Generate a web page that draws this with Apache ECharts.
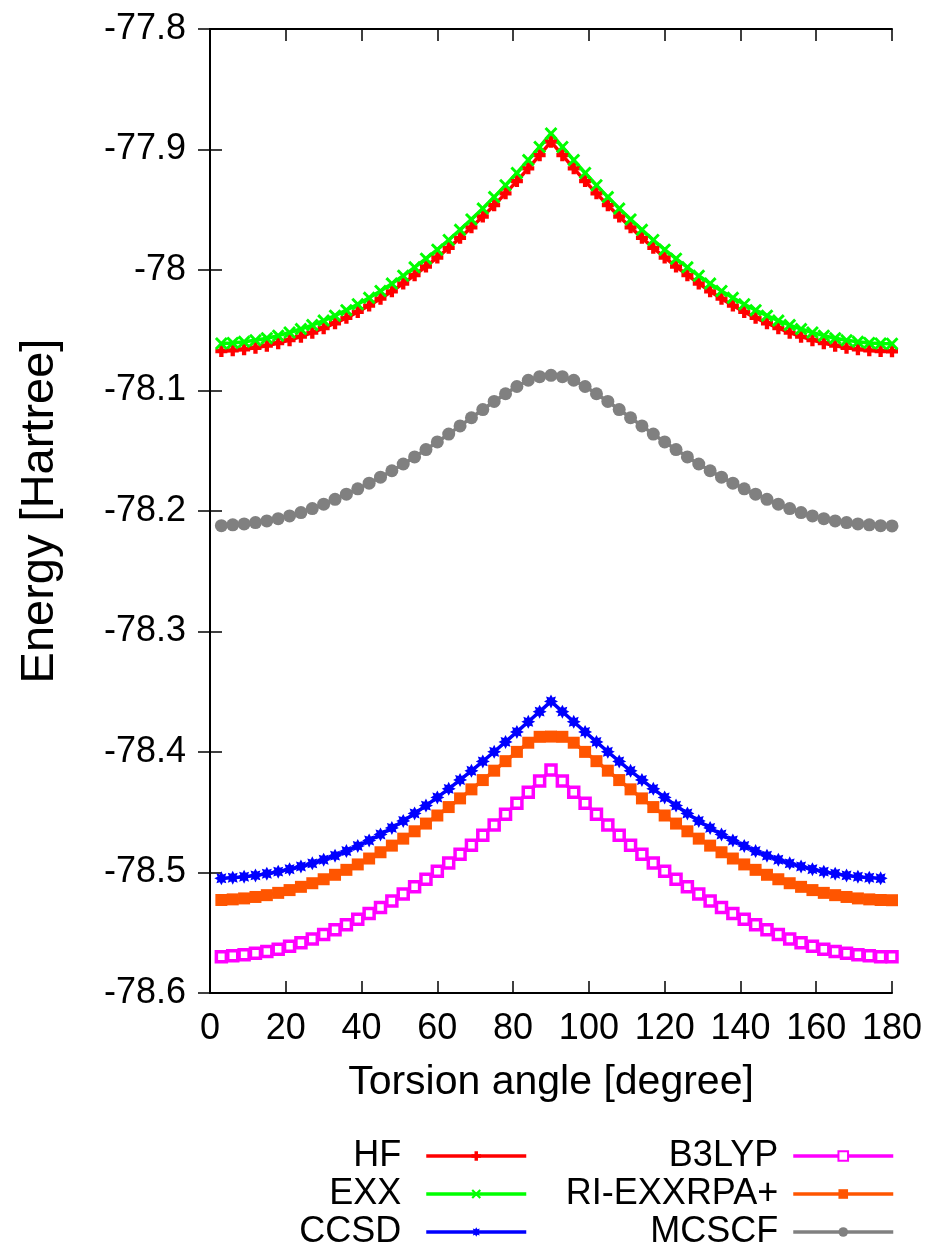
<!DOCTYPE html>
<html><head><meta charset="utf-8">
<script src="https://cdn.jsdelivr.net/npm/echarts@6/dist/echarts.min.js"></script>
<style>html,body{margin:0;padding:0;background:#fff}#c{width:933px;height:1244px}</style>
</head><body><div id="c"></div>
<script>
// ---- data ----
const angles = [3,6,9,12,15,18,21,24,27,30,33,36,39,42,45,48,51,54,57,60,63,66,69,72,75,78,81,84,87,90,
  93,96,99,102,105,108,111,114,117,120,123,126,129,132,135,138,141,144,147,150,153,156,159,162,165,168,171,174,177,180];

const hf = [-78.0672,-78.0667,-78.0658,-78.0645,-78.0628,-78.0607,-78.0582,-78.0553,-78.0520,-78.0483,-78.0442,-78.0397,-78.0348,-78.0295,-78.0238,-78.0177,-78.0112,-78.0043,-77.9971,-77.9896,-77.9816,-77.9733,-77.9646,-77.9556,-77.9462,-77.9364,-77.9262,-77.9156,-77.9047,-77.8935,
  -77.9047,-77.9156,-77.9262,-77.9364,-77.9462,-77.9556,-77.9646,-77.9733,-77.9816,-77.9896,-77.9971,-78.0043,-78.0112,-78.0177,-78.0238,-78.0295,-78.0348,-78.0397,-78.0442,-78.0483,-78.0520,-78.0553,-78.0582,-78.0607,-78.0628,-78.0645,-78.0658,-78.0667,-78.0672,-78.0674];

const exx = [-78.0610,-78.0605,-78.0596,-78.0583,-78.0566,-78.0545,-78.0519,-78.0490,-78.0457,-78.0420,-78.0379,-78.0333,-78.0284,-78.0231,-78.0174,-78.0113,-78.0048,-77.9978,-77.9906,-77.9831,-77.9751,-77.9667,-77.9580,-77.9490,-77.9395,-77.9297,-77.9195,-77.9088,-77.8979,-77.8867,
  -77.8979,-77.9088,-77.9195,-77.9297,-77.9395,-77.9490,-77.9580,-77.9667,-77.9751,-77.9831,-77.9906,-77.9978,-78.0048,-78.0113,-78.0174,-78.0231,-78.0284,-78.0333,-78.0379,-78.0420,-78.0457,-78.0490,-78.0519,-78.0545,-78.0566,-78.0583,-78.0596,-78.0605,-78.0610,-78.0612];

const ccsd = [-78.5048,-78.5043,-78.5035,-78.5024,-78.5010,-78.4993,-78.4973,-78.4950,-78.4924,-78.4894,-78.4860,-78.4822,-78.4780,-78.4734,-78.4684,-78.4630,-78.4572,-78.4510,-78.4445,-78.4377,-78.4306,-78.4232,-78.4156,-78.4078,-78.3998,-78.3916,-78.3833,-78.3749,-78.3665,-78.3580,
  -78.3665,-78.3749,-78.3833,-78.3916,-78.3998,-78.4078,-78.4156,-78.4232,-78.4306,-78.4377,-78.4445,-78.4510,-78.4572,-78.4630,-78.4684,-78.4734,-78.4780,-78.4822,-78.4860,-78.4894,-78.4924,-78.4950,-78.4973,-78.4993,-78.5010,-78.5024,-78.5035,-78.5043,-78.5048];

const b3lyp = [-78.5699,-78.5691,-78.5682,-78.5671,-78.5656,-78.5637,-78.5613,-78.5584,-78.5551,-78.5515,-78.5476,-78.5434,-78.5389,-78.5341,-78.5290,-78.5236,-78.5179,-78.5119,-78.5056,-78.4990,-78.4921,-78.4849,-78.4773,-78.4691,-78.4605,-78.4516,-78.4425,-78.4333,-78.4241,-78.4149,
  -78.4241,-78.4333,-78.4425,-78.4516,-78.4605,-78.4691,-78.4773,-78.4849,-78.4921,-78.4990,-78.5056,-78.5119,-78.5179,-78.5236,-78.5290,-78.5341,-78.5389,-78.5434,-78.5476,-78.5515,-78.5551,-78.5584,-78.5613,-78.5637,-78.5656,-78.5671,-78.5682,-78.5691,-78.5699,-78.5700];

const riExxRpa = [-78.5228,-78.5223,-78.5215,-78.5203,-78.5188,-78.5169,-78.5146,-78.5119,-78.5089,-78.5056,-78.5019,-78.4978,-78.4933,-78.4884,-78.4832,-78.4777,-78.4719,-78.4658,-78.4594,-78.4527,-78.4457,-78.4385,-78.4310,-78.4233,-78.4155,-78.4076,-78.3999,-78.3923,-78.3874,-78.3872,
  -78.3874,-78.3923,-78.3999,-78.4076,-78.4155,-78.4233,-78.4310,-78.4385,-78.4457,-78.4527,-78.4594,-78.4658,-78.4719,-78.4777,-78.4832,-78.4884,-78.4933,-78.4978,-78.5019,-78.5056,-78.5089,-78.5119,-78.5146,-78.5169,-78.5188,-78.5203,-78.5215,-78.5223,-78.5228,-78.5230];

const mcscf = [-78.2122,-78.2115,-78.2107,-78.2096,-78.2082,-78.2064,-78.2041,-78.2013,-78.1980,-78.1943,-78.1903,-78.1860,-78.1816,-78.1769,-78.1719,-78.1666,-78.1610,-78.1551,-78.1490,-78.1427,-78.1362,-78.1294,-78.1226,-78.1158,-78.1091,-78.1027,-78.0967,-78.0915,-78.0885,-78.0874,
  -78.0885,-78.0915,-78.0967,-78.1027,-78.1091,-78.1158,-78.1226,-78.1294,-78.1362,-78.1427,-78.1490,-78.1551,-78.1610,-78.1666,-78.1719,-78.1769,-78.1816,-78.1860,-78.1903,-78.1943,-78.1980,-78.2013,-78.2041,-78.2064,-78.2082,-78.2096,-78.2107,-78.2115,-78.2122,-78.2124];

const seriesNames = ['HF','EXX','CCSD','B3LYP','RI-EXXRPA+','MCSCF'];
const xTicks = [0,20,40,60,80,100,120,140,160,180];
const yTicks = [-78.6,-78.5,-78.4,-78.3,-78.2,-78.1,-78,-77.9,-77.8];
const yTickLabels = ['-78.6','-78.5','-78.4','-78.3','-78.2','-78.1','-78','-77.9','-77.8'];
const xTitle = 'Torsion angle [degree]';
const yTitle = 'Energy [Hartree]';

// ---- styles ----
const FONT = 'Liberation Sans';
const PLUS = 'path://M3.2,0H6.8V3.2H10V6.8H6.8V10H3.2V6.8H0V3.2H3.2Z';
const CROSS = 'path://M0,1.6L1.6,0L5,3.4L8.4,0L10,1.6L6.6,5L10,8.4L8.4,10L5,6.6L1.6,10L0,8.4L3.4,5Z';
const STAR = 'path://M5,0L6.15,2.23L8.54,1.46L7.77,3.85L10,5L7.77,6.15L8.54,8.54L6.15,7.77L5,10L3.85,7.77L1.46,8.54L2.23,6.15L0,5L2.23,3.85L1.46,1.46L3.85,2.23Z';

function pairs(vals){ return vals.map((v,i)=>[angles[i], v]); }
function mk(name, vals, color, symbol, size, extraItem){
  return {
    name, type:'line', data: pairs(vals),
    symbol, symbolSize:size, showSymbol:true, showAllSymbol:true, symbolKeepAspect:true,
    lineStyle:{color, width:3.5},
    itemStyle: Object.assign({color}, extraItem||{}),
    emphasis:{disabled:true}, animation:false, clip:false
  };
}
const series = [
  mk(seriesNames[0], hf, '#ff0000', PLUS, 12),
  mk(seriesNames[1], exx, '#00ff00', CROSS, 13),
  mk(seriesNames[2], ccsd, '#0000ff', STAR, 14),
  mk(seriesNames[3], b3lyp, '#ff00ff', 'rect', 10, {color:'#ffffff', borderColor:'#ff00ff', borderWidth:3.5}),
  mk(seriesNames[4], riExxRpa, '#ff5500', 'rect', 12),
  mk(seriesNames[5], mcscf, '#808080', 'circle', 13)
];

const axisLine = {show:true, lineStyle:{color:'#000', width:2}};
const axisTick = {show:true, inside:true, length:12, lineStyle:{color:'#000', width:1.5}};
const labelStyle = {fontFamily:FONT, fontSize:36, color:'#000'};
const legendBase = {
  orient:'vertical', align:'right', itemWidth:100, itemHeight:12, itemGap:2, padding:0,
  top:1138, height:400, selectedMode:false,
  lineStyle:{width:3.5},
  formatter: n => n + '  ',
  textStyle:{fontFamily:FONT, fontSize:36, lineHeight:28, color:'#000'}
};

const option = {
  backgroundColor:'#fff',
  animation:false,
  grid:{left:210, right:41, top:29, bottom:251, containLabel:false, outerBoundsMode:'none'},
  xAxis:[
    {type:'value', position:'bottom', min:xTicks[0], max:xTicks[xTicks.length-1], interval:xTicks[1]-xTicks[0],
     axisLine, axisTick, splitLine:{show:false},
     axisLabel:Object.assign({margin:18, showMinLabel:true, showMaxLabel:true}, labelStyle),
     name:xTitle, nameLocation:'middle', nameGap:69, nameTextStyle:Object.assign({}, labelStyle, {fontSize:41})},
    {type:'value', position:'top', min:xTicks[0], max:xTicks[xTicks.length-1], interval:xTicks[1]-xTicks[0],
     axisLine, axisTick, splitLine:{show:false}, axisLabel:{show:false}}
  ],
  yAxis:[
    {type:'value', position:'left', min:yTicks[0], max:yTicks[yTicks.length-1], interval:0.1,
     axisLine, axisTick, splitLine:{show:false},
     axisLabel:Object.assign({margin:24, showMinLabel:true, showMaxLabel:true,
       formatter: v => { const i = yTicks.findIndex(t => Math.abs(t - v) < 1e-6); return i >= 0 ? yTickLabels[i] : ''; }}, labelStyle),
     name:yTitle, nameLocation:'middle', nameGap:146, nameRotate:90, nameTextStyle:Object.assign({}, labelStyle, {fontSize:47})},
    {type:'value', position:'right', min:yTicks[0], max:yTicks[yTicks.length-1], interval:0.1,
     axisLine, axisTick, splitLine:{show:false}, axisLabel:{show:false}}
  ],
  legend:[
    Object.assign({}, legendBase, {data:seriesNames.slice(0,3), right:405}),
    Object.assign({}, legendBase, {data:seriesNames.slice(3,6), right:38, formatter: n => n + ' '})
  ],
  series
};
const chart = echarts.init(document.getElementById('c'), null, {renderer:'canvas'});
chart.setOption(option);
</script>
</body></html>
